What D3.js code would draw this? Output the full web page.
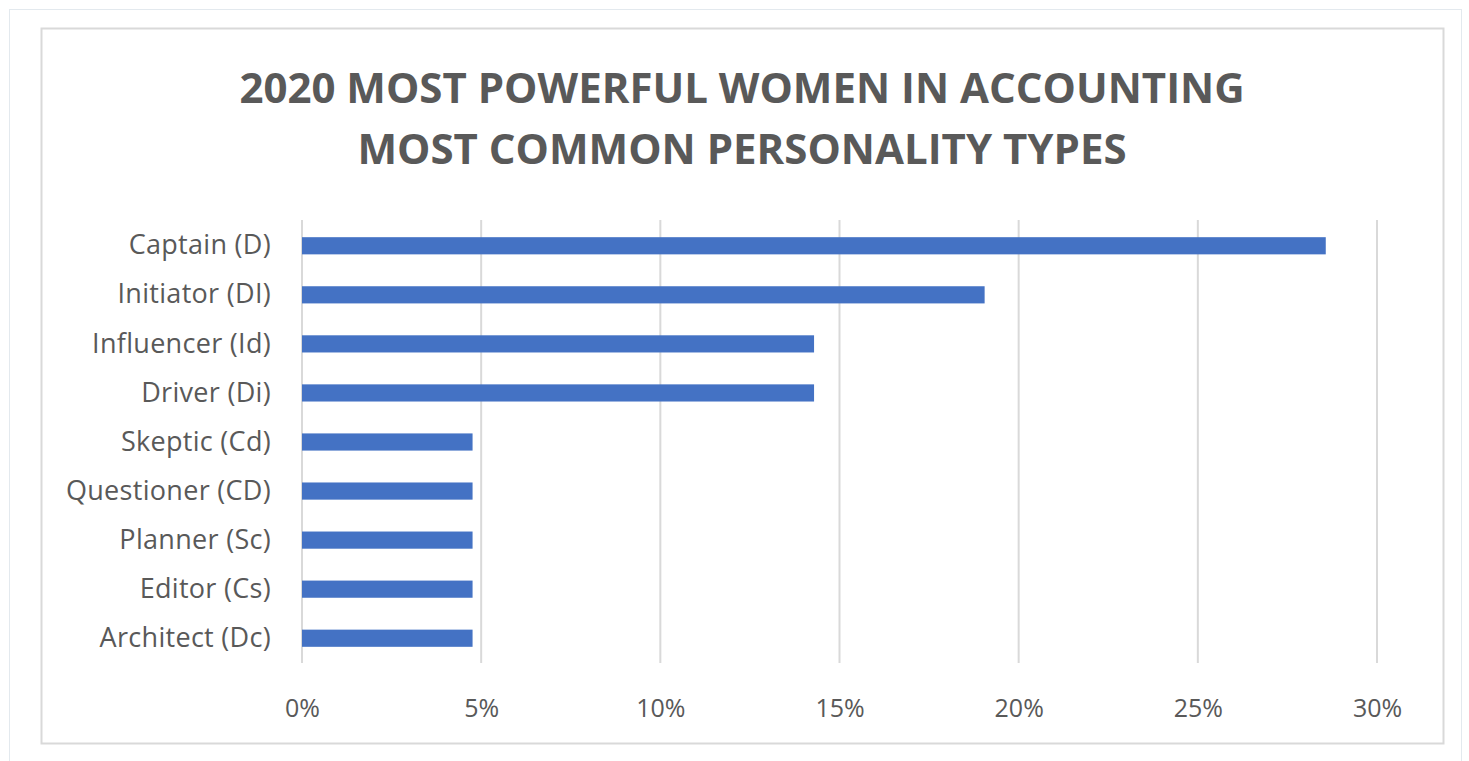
<!DOCTYPE html>
<html>
<head>
<style>
body { margin: 0; background: #fff; }
text { font-family: "Open Sans", "Noto Sans", sans-serif; fill: #595959; }
.title { font-weight: bold; font-size: 42px; }
.axis text { font-size: 25px; }
.axis.yaxis text { font-size: 27px; letter-spacing: 0.3px; }
.axis path, .axis line { display: none; }
.grid line { stroke: #d9d9d9; stroke-width: 2; }
.bar { fill: #4472c4; }
</style>
<title>bar</title>
<script src="https://cdn.jsdelivr.net/npm/d3@7"></script>
</head>
<body>
<svg width="1469" height="761"></svg>
<script>

var categories = ["Captain (D)", "Initiator (DI)", "Influencer (Id)", "Driver (Di)",
                  "Skeptic (Cd)", "Questioner (CD)", "Planner (Sc)", "Editor (Cs)", "Architect (Dc)"];
var shares = [0.2857, 0.1905, 0.1429, 0.1429, 0.0476, 0.0476, 0.0476, 0.0476, 0.0476];
var ticks = [0, 0.05, 0.10, 0.15, 0.20, 0.25, 0.30];
var titleLines = ["2020 MOST POWERFUL WOMEN IN ACCOUNTING", "MOST COMMON  PERSONALITY TYPES"];

var svg = d3.select("svg");

// outer frame + chart frame
svg.append("rect").attr("x", 9.5).attr("y", 9.5).attr("width", 1452).attr("height", 760)
    .attr("fill", "none").attr("stroke", "#e3e9ee").attr("stroke-width", 1);
svg.append("rect").attr("x", 41.5).attr("y", 28.5).attr("width", 1402).attr("height", 715)
    .attr("fill", "#fff").attr("stroke", "#d9d9d9").attr("stroke-width", 2);

var margin = {left: 302, right: 92, top: 221, bottom: 98};
var width = 1469 - margin.left - margin.right,
    height = 761 - margin.top - margin.bottom;

var x = d3.scaleLinear().domain([0, 0.30]).range([0, width]);
var y = d3.scaleBand().domain(categories).range([0, height]).paddingInner(0.65).paddingOuter(0.33);

var g = svg.append("g").attr("transform", "translate(" + margin.left + "," + margin.top + ")");

g.append("g").attr("class", "grid")
  .selectAll("line").data(ticks).enter().append("line")
    .attr("x1", function(d) { return x(d); })
    .attr("x2", function(d) { return x(d); })
    .attr("y1", -1).attr("y2", height);

g.selectAll(".bar").data(shares).enter().append("rect")
    .attr("class", "bar")
    .attr("x", x(0))
    .attr("y", function(d, i) { return y(categories[i]); })
    .attr("width", function(d) { return x(d) - x(0); })
    .attr("height", y.bandwidth());

g.append("g").attr("class", "axis")
    .attr("transform", "translate(0," + height + ")")
    .call(d3.axisBottom(x).tickValues(ticks).tickFormat(d3.format(".0%")).tickSize(0).tickPadding(36));

g.append("g").attr("class", "axis yaxis")
    .attr("transform", "translate(-31,0)")
    .call(d3.axisLeft(y).tickSize(0).tickPadding(0));

svg.selectAll(".title").data(titleLines).enter().append("text")
    .attr("class", "title")
    .attr("x", 742)
    .attr("y", function(d, i) { return 103 + i * 61; })
    .attr("text-anchor", "middle")
    .text(function(d) { return d; });

</script>
</body>
</html>
